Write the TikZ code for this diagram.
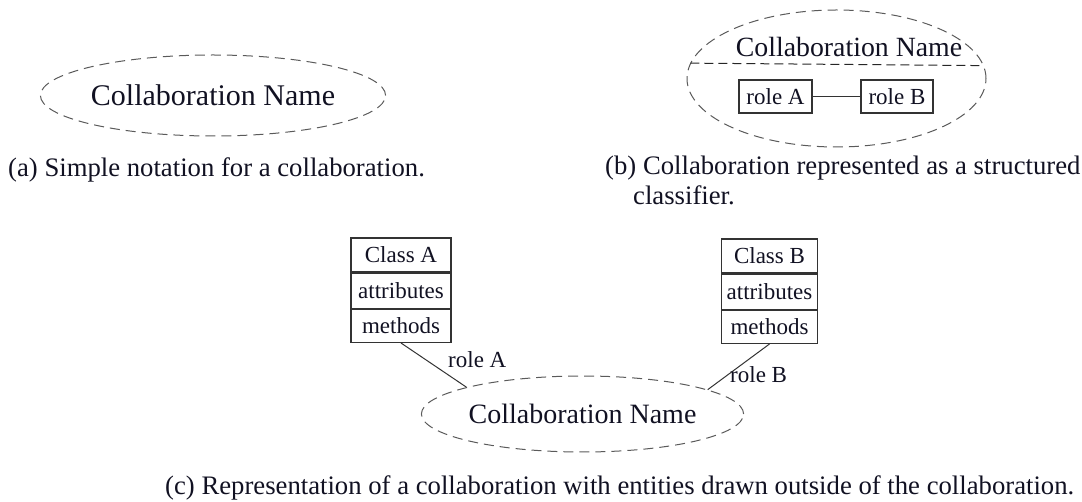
\documentclass[tikz,border=0pt]{standalone}
\usepackage{fontspec}
\setmainfont{Liberation Serif}
\usetikzlibrary{shapes.geometric}

\definecolor{dashgray}{HTML}{5A5A5A}
\definecolor{boxline}{HTML}{333333}
\definecolor{inktext}{HTML}{111122}

\tikzset{
  collab/.style={ellipse, draw=dashgray, line width=1pt,
    dash pattern=on 10pt off 6pt, inner sep=0pt, text=inktext},
  partbox/.style={rectangle, draw=boxline, line width=1.2pt, inner sep=0pt,
    text=inktext, font=\fontsize{23}{27}\selectfont},
  roleline/.style={draw=boxline, line width=1pt},
  caption/.style={inner sep=0pt, text=inktext, font=\fontsize{26.7}{32}\selectfont},
  rolelabel/.style={inner sep=0pt, text=inktext, font=\fontsize{23}{27}\selectfont},
}

\begin{document}
\begin{tikzpicture}[x=1pt, y=-1pt]
\useasboundingbox (0,0) rectangle (1082,502);

% (a) plain collaboration ellipse
\node[collab, minimum width=302, minimum height=81,
      font=\fontsize{30}{36}\selectfont] (ea) at (213,95.5) {Collaboration Name};
\node[caption, anchor=base west] (capa) at (8,177)
  {(a) Simple notation for a collaboration.};

% (b) collaboration as a structured classifier
\node[collab, minimum width=299, minimum height=137] (eb) at (836.5,78.5) {};
\node[inner sep=0pt, anchor=base, text=inktext,
      font=\fontsize{27.8}{33}\selectfont] (tb) at (849,57) {Collaboration Name};
\draw[draw=black!85, line width=1pt, dash pattern=on 9pt off 5pt]
  (eb.174.74) -- (eb.5.26);
\node[partbox, minimum width=73, minimum height=33] (ra) at (775.5,96.5) {role A};
\node[partbox, minimum width=72, minimum height=33] (rb) at (897,96.5) {role B};
\draw[roleline] (ra) -- (rb);
\node[caption, anchor=base west] (capb) at (605,175)
  {(b) Collaboration represented as a structured};
\node[caption, anchor=base west] (capb2) at (633,205) {classifier.};

% (c) collaboration with classes outside
\node[partbox, minimum width=100, minimum height=34] (nA) at (401,255) {Class A};
\node[partbox, minimum width=100, minimum height=35, anchor=north] (aA) at (nA.south) {attributes};
\node[partbox, minimum width=100, minimum height=33, anchor=north] (mA) at (aA.south) {methods};

\node[partbox, minimum width=96, minimum height=34] (nB) at (769.5,256) {Class B};
\node[partbox, minimum width=96, minimum height=35, anchor=north] (aB) at (nB.south) {attributes};
\node[partbox, minimum width=96, minimum height=33, anchor=north] (mB) at (aB.south) {methods};

\node[collab, minimum width=259, minimum height=76,
      font=\fontsize{28}{33}\selectfont] (ec) at (582.5,414) {Collaboration Name};

\draw[roleline] (mA.south) -- (ec.167.9);
\draw[roleline] (mB.south) -- (ec.11.8);
\node[rolelabel, anchor=base west] (lA) at (448,368) {role A};
\node[rolelabel, anchor=base west] (lB) at (730,383) {role B};

\node[caption, anchor=base west] (capc) at (165,494)
  {(c) Representation of a collaboration with entities drawn outside of the collaboration.};
\end{tikzpicture}
\end{document}
